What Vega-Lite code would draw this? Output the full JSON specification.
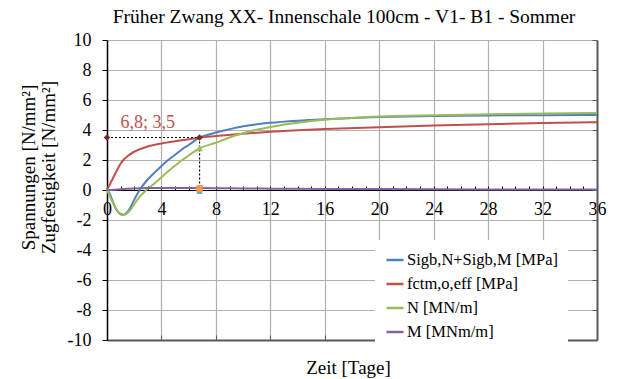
{
  "$schema": "https://vega.github.io/schema/vega-lite/v6.json",
  "width": 490,
  "height": 300,
  "autosize": {"type": "none"},
  "padding": {"left": 107, "top": 40, "right": 25, "bottom": 39},
  "background": "white",
  "config": {
    "font": "Liberation Serif",
    "view": {"stroke": null},
    "axis": {"labelFont": "Liberation Serif", "titleFont": "Liberation Serif"},
    "legend": {"labelFont": "Liberation Serif", "titleFont": "Liberation Serif"},
    "text": {"font": "Liberation Serif"}
  },
  "title": {"text": "Früher Zwang XX- Innenschale 100cm - V1- B1 - Sommer", "fontSize": 19.5, "font": "Liberation Serif", "fontWeight": "normal", "color": "black", "anchor": "middle", "dx": -8, "offset": 4},
  "datasets": {
    "curves": [
      {"s": "Sigb,N+Sigb,M [MPa]", "t": 0, "v": 0},
      {"s": "Sigb,N+Sigb,M [MPa]", "t": 0.2, "v": -0.25},
      {"s": "Sigb,N+Sigb,M [MPa]", "t": 0.4, "v": -0.7},
      {"s": "Sigb,N+Sigb,M [MPa]", "t": 0.6, "v": -1.15},
      {"s": "Sigb,N+Sigb,M [MPa]", "t": 0.8, "v": -1.45},
      {"s": "Sigb,N+Sigb,M [MPa]", "t": 1.0, "v": -1.62},
      {"s": "Sigb,N+Sigb,M [MPa]", "t": 1.2, "v": -1.65},
      {"s": "Sigb,N+Sigb,M [MPa]", "t": 1.4, "v": -1.55},
      {"s": "Sigb,N+Sigb,M [MPa]", "t": 1.7, "v": -1.2},
      {"s": "Sigb,N+Sigb,M [MPa]", "t": 2.0, "v": -0.65},
      {"s": "Sigb,N+Sigb,M [MPa]", "t": 2.4, "v": 0.0},
      {"s": "Sigb,N+Sigb,M [MPa]", "t": 2.8, "v": 0.5},
      {"s": "Sigb,N+Sigb,M [MPa]", "t": 3.2, "v": 0.9},
      {"s": "Sigb,N+Sigb,M [MPa]", "t": 3.6, "v": 1.25},
      {"s": "Sigb,N+Sigb,M [MPa]", "t": 4.0, "v": 1.6},
      {"s": "Sigb,N+Sigb,M [MPa]", "t": 4.5, "v": 2.0},
      {"s": "Sigb,N+Sigb,M [MPa]", "t": 5.0, "v": 2.35},
      {"s": "Sigb,N+Sigb,M [MPa]", "t": 5.5, "v": 2.7},
      {"s": "Sigb,N+Sigb,M [MPa]", "t": 6.0, "v": 3.0},
      {"s": "Sigb,N+Sigb,M [MPa]", "t": 6.8, "v": 3.5},
      {"s": "Sigb,N+Sigb,M [MPa]", "t": 7.5, "v": 3.7},
      {"s": "Sigb,N+Sigb,M [MPa]", "t": 8, "v": 3.83},
      {"s": "Sigb,N+Sigb,M [MPa]", "t": 9, "v": 4.05},
      {"s": "Sigb,N+Sigb,M [MPa]", "t": 10, "v": 4.25},
      {"s": "Sigb,N+Sigb,M [MPa]", "t": 11, "v": 4.38},
      {"s": "Sigb,N+Sigb,M [MPa]", "t": 12, "v": 4.48},
      {"s": "Sigb,N+Sigb,M [MPa]", "t": 14, "v": 4.62},
      {"s": "Sigb,N+Sigb,M [MPa]", "t": 16, "v": 4.72},
      {"s": "Sigb,N+Sigb,M [MPa]", "t": 18, "v": 4.8},
      {"s": "Sigb,N+Sigb,M [MPa]", "t": 20, "v": 4.86},
      {"s": "Sigb,N+Sigb,M [MPa]", "t": 24, "v": 4.93},
      {"s": "Sigb,N+Sigb,M [MPa]", "t": 28, "v": 4.97},
      {"s": "Sigb,N+Sigb,M [MPa]", "t": 32, "v": 4.99},
      {"s": "Sigb,N+Sigb,M [MPa]", "t": 36, "v": 5.0},
      {"s": "fctm,o,eff [MPa]", "t": 0, "v": 0},
      {"s": "fctm,o,eff [MPa]", "t": 0.25, "v": 0.45},
      {"s": "fctm,o,eff [MPa]", "t": 0.5, "v": 0.9},
      {"s": "fctm,o,eff [MPa]", "t": 0.75, "v": 1.35},
      {"s": "fctm,o,eff [MPa]", "t": 1.0, "v": 1.75},
      {"s": "fctm,o,eff [MPa]", "t": 1.25, "v": 2.05},
      {"s": "fctm,o,eff [MPa]", "t": 1.5, "v": 2.25},
      {"s": "fctm,o,eff [MPa]", "t": 2, "v": 2.55},
      {"s": "fctm,o,eff [MPa]", "t": 2.5, "v": 2.75},
      {"s": "fctm,o,eff [MPa]", "t": 3, "v": 2.9},
      {"s": "fctm,o,eff [MPa]", "t": 4, "v": 3.1},
      {"s": "fctm,o,eff [MPa]", "t": 5, "v": 3.25},
      {"s": "fctm,o,eff [MPa]", "t": 6, "v": 3.38},
      {"s": "fctm,o,eff [MPa]", "t": 6.8, "v": 3.5},
      {"s": "fctm,o,eff [MPa]", "t": 8, "v": 3.6},
      {"s": "fctm,o,eff [MPa]", "t": 10, "v": 3.75},
      {"s": "fctm,o,eff [MPa]", "t": 12, "v": 3.88},
      {"s": "fctm,o,eff [MPa]", "t": 14, "v": 3.98},
      {"s": "fctm,o,eff [MPa]", "t": 16, "v": 4.06},
      {"s": "fctm,o,eff [MPa]", "t": 20, "v": 4.19},
      {"s": "fctm,o,eff [MPa]", "t": 24, "v": 4.3},
      {"s": "fctm,o,eff [MPa]", "t": 28, "v": 4.39},
      {"s": "fctm,o,eff [MPa]", "t": 32, "v": 4.46},
      {"s": "fctm,o,eff [MPa]", "t": 36, "v": 4.52},
      {"s": "N [MN/m]", "t": 0, "v": 0},
      {"s": "N [MN/m]", "t": 0.2, "v": -0.4},
      {"s": "N [MN/m]", "t": 0.4, "v": -0.8},
      {"s": "N [MN/m]", "t": 0.6, "v": -1.15},
      {"s": "N [MN/m]", "t": 0.8, "v": -1.42},
      {"s": "N [MN/m]", "t": 1.0, "v": -1.58},
      {"s": "N [MN/m]", "t": 1.2, "v": -1.65},
      {"s": "N [MN/m]", "t": 1.4, "v": -1.6},
      {"s": "N [MN/m]", "t": 1.7, "v": -1.35},
      {"s": "N [MN/m]", "t": 2.0, "v": -0.95},
      {"s": "N [MN/m]", "t": 2.4, "v": -0.45},
      {"s": "N [MN/m]", "t": 2.9, "v": 0.0},
      {"s": "N [MN/m]", "t": 3.5, "v": 0.45},
      {"s": "N [MN/m]", "t": 4, "v": 0.85},
      {"s": "N [MN/m]", "t": 4.5, "v": 1.25},
      {"s": "N [MN/m]", "t": 5, "v": 1.62},
      {"s": "N [MN/m]", "t": 5.5, "v": 1.98},
      {"s": "N [MN/m]", "t": 6, "v": 2.3},
      {"s": "N [MN/m]", "t": 6.8, "v": 2.78},
      {"s": "N [MN/m]", "t": 8, "v": 3.15},
      {"s": "N [MN/m]", "t": 9, "v": 3.5},
      {"s": "N [MN/m]", "t": 10, "v": 3.78},
      {"s": "N [MN/m]", "t": 11, "v": 4.02},
      {"s": "N [MN/m]", "t": 12, "v": 4.2},
      {"s": "N [MN/m]", "t": 14, "v": 4.48},
      {"s": "N [MN/m]", "t": 16, "v": 4.68},
      {"s": "N [MN/m]", "t": 18, "v": 4.8},
      {"s": "N [MN/m]", "t": 20, "v": 4.9},
      {"s": "N [MN/m]", "t": 24, "v": 4.99},
      {"s": "N [MN/m]", "t": 28, "v": 5.05},
      {"s": "N [MN/m]", "t": 32, "v": 5.1},
      {"s": "N [MN/m]", "t": 36, "v": 5.14},
      {"s": "M [MNm/m]", "t": 0, "v": 0},
      {"s": "M [MNm/m]", "t": 0.5, "v": 0.02},
      {"s": "M [MNm/m]", "t": 1, "v": 0.05},
      {"s": "M [MNm/m]", "t": 2, "v": 0.1},
      {"s": "M [MNm/m]", "t": 3, "v": 0.13},
      {"s": "M [MNm/m]", "t": 4, "v": 0.14},
      {"s": "M [MNm/m]", "t": 6, "v": 0.13},
      {"s": "M [MNm/m]", "t": 8, "v": 0.12},
      {"s": "M [MNm/m]", "t": 10, "v": 0.1},
      {"s": "M [MNm/m]", "t": 12, "v": 0.09},
      {"s": "M [MNm/m]", "t": 16, "v": 0.07},
      {"s": "M [MNm/m]", "t": 20, "v": 0.06},
      {"s": "M [MNm/m]", "t": 28, "v": 0.04},
      {"s": "M [MNm/m]", "t": 36, "v": 0.03}
    ],
    "guides": [
      {"x": 0, "x2": 6.8, "y": 3.5, "y2": 3.5},
      {"x": 6.8, "x2": 6.8, "y": 3.5, "y2": 0}
    ],
    "markers": [
      {"m": "d", "t": 0, "v": 3.5},
      {"m": "d", "t": 6.8, "v": 3.5},
      {"m": "tg", "t": 6.8, "v": 2.78},
      {"m": "tt", "t": 6.8, "v": -0.05},
      {"m": "sq", "t": 6.8, "v": 0.1}
    ],
    "labels": [
      {"t": 3, "v": 4.45, "txt": "6,8; 3,5"}
    ]
  },
  "resolve": {"axis": {"x": "independent", "y": "independent"}},
  "layer": [
    {
      "data": {"name": "curves"},
      "mark": {"type": "line", "interpolate": "monotone", "strokeWidth": 2},
      "encoding": {
        "x": {"field": "t", "type": "quantitative",
          "scale": {"domain": [0, 36], "nice": false, "zero": false},
          "axis": {"orient": "bottom", "offset": -150, "values": [0,1,2,3,4,5,6,7,8,9,10,11,12,13,14,15,16,17,18,19,20,21,22,23,24,25,26,27,28,29,30,31,32,33,34,35,36],
            "labelExpr": "datum.value % 4 === 0 ? datum.label : ''",
            "gridOpacity": {"condition": {"test": "datum.value % 4 === 0 && datum.value > 0 && datum.value < 36", "value": 1}, "value": 0},
            "grid": true, "gridColor": "#B0B0B0", "gridWidth": 1.2,
            "domainColor": "black", "domainWidth": 1.2, "tickColor": "black", "tickSize": -4, "tickWidth": 1,
            "labelFont": "Liberation Serif", "labelFontSize": 18, "labelColor": "black", "labelPadding": 14, "labelFlush": false, "labelOverlap": false,
            "title": null}},
        "y": {"field": "v", "type": "quantitative",
          "scale": {"domain": [-10, 10], "nice": false},
          "axis": {"orient": "left", "values": [-10,-8,-6,-4,-2,0,2,4,6,8,10],
            "labelExpr": "datum.value < 0 ? '-' + abs(datum.value) : '' + datum.value",
            "grid": true, "gridColor": "#B0B0B0", "gridWidth": 1.2,
            "domainColor": "black", "domainWidth": 1.5, "tickColor": "black", "tickSize": 5,
            "labelFont": "Liberation Serif", "labelFontSize": 18, "labelColor": "black", "labelPadding": 11,
            "title": ["Spannungen [N/mm²]", "Zugfestigkeit [N/mm²]"], "titleFont": "Liberation Serif", "titleFontSize": 19, "titleFontWeight": "normal", "titleColor": "black", "titleLineHeight": 20, "titlePadding": 9, "titleY": 127}},
        "color": {"field": "s", "type": "nominal",
          "scale": {"domain": ["Sigb,N+Sigb,M [MPa]", "fctm,o,eff [MPa]", "N [MN/m]", "M [MNm/m]"], "range": ["#4F81BD", "#C0504D", "#9BBB59", "#8064A2"]},
          "legend": {"orient": "none", "legendX": 268, "legendY": 200, "title": null, "symbolType": "stroke", "symbolSize": 289, "symbolStrokeWidth": 2.5, "labelFont": "Liberation Serif", "labelFontSize": 16.5, "labelColor": "black", "labelOffset": 2, "rowPadding": 5, "fillColor": "white", "padding": 10}}
      }
    },
    {
      "data": {"name": "guides"},
      "mark": {"type": "rule", "strokeDash": [2, 2], "color": "black", "strokeWidth": 1.2},
      "encoding": {
        "x": {"field": "x", "type": "quantitative",
          "axis": {"orient": "bottom", "values": [0,4,8,12,16,20,24,28,32,36], "labels": false, "grid": false, "tickSize": -5, "tickColor": "#595959", "domainColor": "#595959", "domainWidth": 2,
            "title": "Zeit [Tage]", "titleFont": "Liberation Serif", "titleFontSize": 19, "titleFontWeight": "normal", "titleColor": "black", "titlePadding": 18, "titleX": 241}},
        "x2": {"field": "x2"},
        "y": {"field": "y", "type": "quantitative",
          "axis": {"orient": "right", "values": [-10,-8,-6,-4,-2,0,2,4,6,8,10], "labels": false, "grid": false, "tickSize": -5, "tickColor": "#595959", "domainColor": "#595959", "domainWidth": 2, "title": null}},
        "y2": {"field": "y2"}
      }
    },
    {
      "data": {"name": "markers"},
      "mark": {"type": "point", "filled": true, "opacity": 1, "size": 45},
      "encoding": {
        "x": {"field": "t", "type": "quantitative", "axis": null},
        "y": {"field": "v", "type": "quantitative", "axis": null},
        "shape": {"field": "m", "type": "nominal", "scale": {"domain": ["d", "tg", "tt", "sq"], "range": ["diamond", "triangle-up", "triangle-up", "square"]}, "legend": null},
        "fill": {"field": "m", "type": "nominal", "scale": {"domain": ["d", "tg", "tt", "sq"], "range": ["#7B2A2A", "#9BBB59", "#4BACC6", "#F79646"]}, "legend": null}
      }
    },
    {
      "data": {"name": "labels"},
      "mark": {"type": "text", "fontSize": 18, "color": "#C0504D", "font": "Liberation Serif"},
      "encoding": {
        "x": {"field": "t", "type": "quantitative", "axis": null},
        "y": {"field": "v", "type": "quantitative", "axis": null},
        "text": {"field": "txt"}
      }
    }
  ]
}
